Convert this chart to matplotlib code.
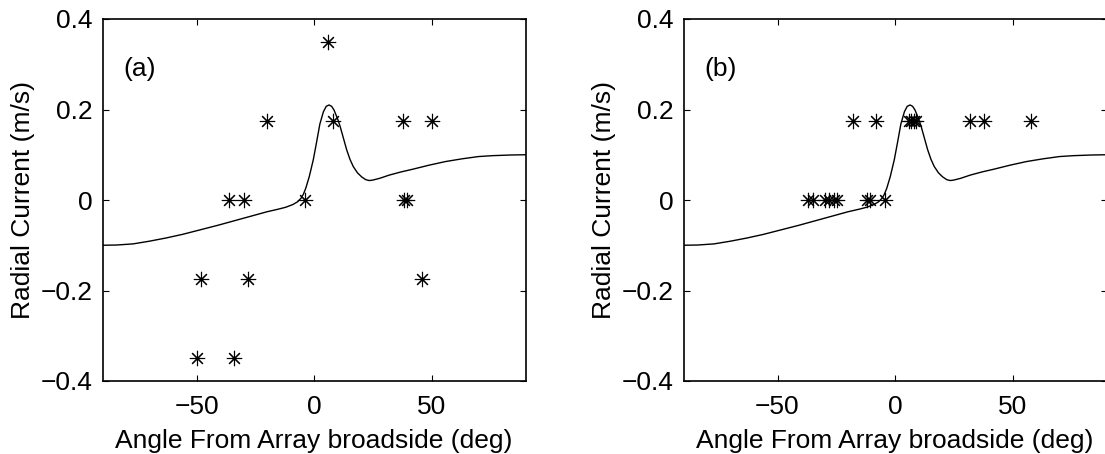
"""
Radial current vs angle from array broadside, two panels
"""
import matplotlib
matplotlib.use('Agg')
import matplotlib.pyplot as plt

plt.rcParams['font.family'] = ['Liberation Sans', 'DejaVu Sans']

# model curve (same in both panels)
curve_angle = [-90, -84, -77, -70, -63, -56, -48.5, -41, -34, -27, -20, -15, -12, -9,
               -7, -5.5, -4.5, -3.5, -2, -0.3, 1, 2.5, 4, 5.2, 6.4, 7.5, 8.5, 10,
               11.1, 12.5, 13.9, 15.3, 16.7, 18.5, 20.3, 22, 23.5, 25, 28, 32, 37,
               42, 49, 56, 63, 70, 76, 84, 90]
curve_current = [-0.100, -0.0995, -0.097, -0.091, -0.084, -0.076, -0.066, -0.056,
                 -0.046, -0.036, -0.026, -0.020, -0.016, -0.010, -0.004, 0.004,
                 0.013, 0.026, 0.052, 0.089, 0.125, 0.168, 0.195, 0.207, 0.210,
                 0.207, 0.199, 0.180, 0.163, 0.137, 0.111, 0.090, 0.074, 0.060,
                 0.051, 0.045, 0.043, 0.044, 0.048, 0.055, 0.062, 0.068, 0.077,
                 0.085, 0.091, 0.096, 0.098, 0.0995, 0.100]

# panel (a) measurements
a_angle = [6, -20, 8, 38, 50, -36, -30, -4, 38.4, 39.7, -48, -28, 46, -50, -34]
a_current = [0.35, 0.175, 0.175, 0.175, 0.175, 0, 0, 0, 0, 0,
             -0.175, -0.175, -0.175, -0.35, -0.35]

# panel (b) measurements
b_angle = [-18, -8, 6, 7, 8, 9, 32, 38, 58,
           -37, -35, -30, -28, -26, -24.5, -12, -10.5, -4.3]
b_current = [0.175] * 9 + [0] * 9

panels = [('(a)', a_angle, a_current), ('(b)', b_angle, b_current)]
xticks = [-50, 0, 50]
yticks = [-0.4, -0.2, 0, 0.2, 0.4]
ytick_labels = ['\u22120.4', '\u22120.2', '0', '0.2', '0.4']
xtick_labels = ['\u221250', '0', '50']

W, H = 1105, 454
fig = plt.figure(figsize=(W / 100, H / 100), dpi=100)

lefts = [102.5, 683.5]
for left, (tag, ang, cur) in zip(lefts, panels):
    ax = fig.add_axes([left / W, (H - 381) / H, 423 / W, 362 / H])
    ax.plot(curve_angle, curve_current, color='black', lw=1.0)
    ax.plot(ang, cur, linestyle='none', marker=(8, 2, 0), markersize=11,
            markeredgewidth=0.8, color='black')
    ax.set_xlim(-90, 90)
    ax.set_ylim(-0.4, 0.4)
    ax.set_xticks(xticks)
    ax.set_xticklabels(xtick_labels)
    ax.set_yticks(yticks)
    ax.set_yticklabels(ytick_labels)
    ax.tick_params(direction='in', top=True, right=True, length=4, width=0.8,
                   labelsize=19)
    ax.tick_params(axis='x', pad=10)
    ax.tick_params(axis='y', pad=7)
    for s in ax.spines.values():
        s.set_linewidth(1.2)
    ax.set_xlabel('Angle From Array broadside (deg)', fontsize=19, labelpad=7)
    ax.set_ylabel('Radial Current (m/s)', fontsize=19, labelpad=4)
    ax.text(-81, 0.29, tag, fontsize=19, va='center', ha='left')

fig.savefig('out.png', dpi=100)
